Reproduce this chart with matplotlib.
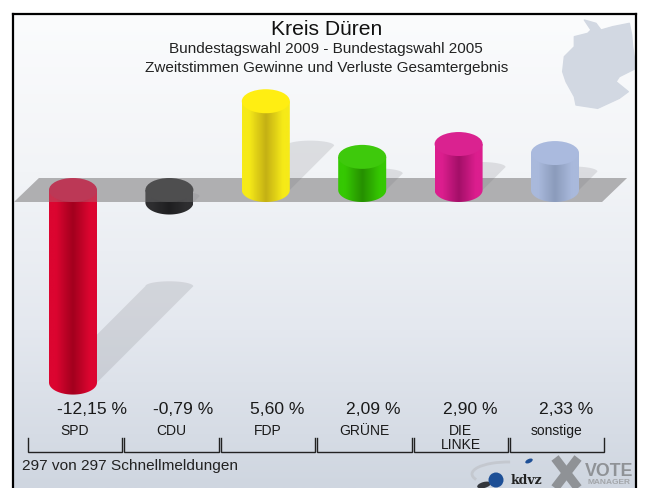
import numpy as np
import matplotlib
matplotlib.use("Agg")
import matplotlib.pyplot as plt
from matplotlib.patches import Ellipse, PathPatch, Polygon, Arc, Circle
from matplotlib.path import Path
from matplotlib.colors import LinearSegmentedColormap

plt.rcParams['font.family'] = ['Liberation Sans', 'DejaVu Sans']

# ---------- data ----------
parties = ["SPD", "CDU", "FDP", "GRÜNE", "DIE\nLINKE", "sonstige"]
changes = [-12.15, -0.79, 5.60, 2.09, 2.90, 2.33]
value_labels = ["-12,15 %", "-0,79 %", "5,60 %", "2,09 %", "2,90 %", "2,33 %"]
edge_colors = ["#dc0530", "#2e2e30", "#f6ea18", "#35c802", "#dc1e8e", "#a9b9dc"]
mid_colors = ["#a2001e", "#1e1e20", "#c4b014", "#268f00", "#a30f68", "#8b9bbb"]
cap_colors = ["#cc0f3a", "#2e2e30", "#ffee12", "#3ec90c", "#da2290", "#aabade"]
title = "Kreis Düren"
subtitle1 = "Bundestagswahl 2009 - Bundestagswahl 2005"
subtitle2 = "Zweitstimmen Gewinne und Verluste Gesamtergebnis"
footer = "297 von 297 Schnellmeldungen"

# ---------- layout (pixels of the 646x488 canvas) ----------
W, H = 646, 488
X0, DX = 73.0, 96.4       # pixel position of first category, spacing
Y0, DY = 190.0, 15.85     # pixel position of value 0, pixels per unit
BAR_W = 48 / DX           # category units
CAP_H = 24 / DY           # value units

fig = plt.figure(figsize=(W / 100, H / 100), dpi=100, facecolor="white")

# chrome axes in pixel coordinates
bg = fig.add_axes([0, 0, 1, 1], zorder=0)
bg.set_xlim(0, W); bg.set_ylim(H, 0); bg.axis("off")

# chart axes: x = category index, y = change in percentage points
ax = fig.add_axes([0, 0, 1, 1], zorder=1)
xlim = ((0 - X0) / DX, (W - X0) / DX)
ylim = ((Y0 - H) / DY, Y0 / DY)
ax.set_xlim(xlim); ax.set_ylim(ylim); ax.axis("off"); ax.patch.set_alpha(0)

# background gradient
grad = np.linspace(0, 1, 256)[:, None]
bg_cmap = LinearSegmentedColormap.from_list("bg", ["#fbfcfd", "#f2f4f7", "#e4e8ef", "#cfd6e0"])
bg.imshow(grad, extent=(13, 636, 488, 14), aspect="auto", cmap=bg_cmap, zorder=0, origin="upper")
bg.set_xlim(0, W); bg.set_ylim(H, 0)

# Germany silhouette
germany_z = [(130,30),(165,40),(180,60),(215,50),(265,40),(272,75),(275,110),(285,175),(235,200),
             (225,215),(262,245),(235,265),(170,295),(105,285),(100,260),(75,215),(65,185),(70,140),
             (100,110),(100,80),(140,70),(150,60)]
germany = [(541 + a / 3.0, 10 + b / 3.0) for a, b in germany_z]
bg.add_patch(Polygon(germany, closed=True, fc="#d2d8e2", ec="#d2d8e2", lw=1, joinstyle="round", zorder=1))

# frame
for xs, ys in [((13, 13), (14, 488)), ((636, 636), (14, 488)), ((13, 636), (14, 14))]:
    bg.plot(xs, ys, color="black", lw=1.6, zorder=2, solid_capstyle="projecting")


def cylinder(i, v, z):
    """Draw one cylinder from value 0 to value v at category i."""
    hi, lo = max(v, 0), min(v, 0)
    hw = BAR_W / 2
    t = np.linspace(np.pi, 2 * np.pi, 40)
    bottom = np.column_stack([i + hw * np.cos(t), lo + CAP_H / 2 * np.sin(t)])
    verts = np.vstack([[(i - hw, hi)], bottom, [(i + hw, hi)], [(i - hw, hi)]])
    clip = PathPatch(Path(verts), transform=ax.transData, fc="none", ec="none")
    ax.add_patch(clip)
    cm = LinearSegmentedColormap.from_list(
        "c", [(0, edge_colors[i]), (0.14, edge_colors[i]), (0.5, mid_colors[i]),
              (0.86, edge_colors[i]), (1, edge_colors[i])])
    im = ax.imshow(np.linspace(0, 1, 64)[None, :], extent=(i - hw, i + hw, lo - CAP_H / 2, hi),
                   aspect="auto", cmap=cm, zorder=z, origin="lower")
    im.set_clip_path(clip)
    ax.add_patch(Ellipse((i, hi), BAR_W, CAP_H, fc=cap_colors[i], ec="none", zorder=z + 0.1))


def shadow(i, v, z):
    """Slanted cast shadow: the cylinder's foot slid up and right, with a rounded end."""
    lo = min(v, 0)
    hw = BAR_W / 2
    ddx = 0.5 * abs(v) * DY / DX
    ddy = 0.5 * abs(v)
    t = np.linspace(np.pi, 0, 24)
    tip = np.column_stack([i + ddx + hw * np.cos(t), lo + ddy + (5 / DY) * np.sin(t)])
    pts = np.vstack([[(i - hw, lo), (i + hw, lo)], tip[::-1], ])
    ax.add_patch(Polygon(pts, closed=True, fc="#6a6a70", alpha=0.17, ec="none", zorder=z))


# floor plane
plane_h = CAP_H / 2
plane_l, plane_r = (14 - X0) / DX, (602 - X0) / DX
skew = 25 / DX
plane = [(plane_l, -plane_h), (plane_r, -plane_h), (plane_r + skew, plane_h), (plane_l + skew, plane_h)]

ax.add_patch(Polygon(plane, closed=True, fc="#b9b9bc", ec="none", zorder=2))
for i, v in enumerate(changes):
    if v < 0:
        shadow(i, v, 2.5)
for i, v in enumerate(changes):
    if v < 0:
        cylinder(i, v, 3)
ax.add_patch(Polygon(plane, closed=True, fc="#9a9a9a", alpha=0.3, ec="none", zorder=4))
for i, v in enumerate(changes):
    if v > 0:
        shadow(i, v, 4.5)
for i, v in enumerate(changes):
    if v > 0:
        cylinder(i, v, 5)
ax.set_xlim(xlim); ax.set_ylim(ylim)

# titles
bg.text(327, 29.5, title, ha="center", va="center", fontsize=15.2, color="#111111", zorder=3)
bg.text(326, 49, subtitle1, ha="center", va="center", fontsize=11, color="#222222", zorder=3)
bg.text(327, 68, subtitle2, ha="center", va="center", fontsize=11, color="#222222", zorder=3)

# value labels and party labels
for i, (lab, p) in enumerate(zip(value_labels, parties)):
    ax.text(i - 16 / DX, (Y0 - 410) / DY, lab, ha="left", va="center", fontsize=12.6, color="#1a1a1a", zorder=6)
    two = "\n" in p
    ax.text(i + 2 / DX, (Y0 - (438 if two else 431)) / DY, p, ha="center", va="center",
            fontsize=10, color="#1a1a1a", zorder=6, linespacing=1.0)

# brackets
for i in range(len(parties)):
    l = bg.transData.inverted().transform(ax.transData.transform((i - 0.477, 0)))[0] + 1
    r = l + DX - 2
    bg.plot([l, l, r, r], [438, 452, 452, 438], color="#222222", lw=1, zorder=3, solid_joinstyle="miter")

# footer
bg.text(22, 466, footer, ha="left", va="center", fontsize=11.1, color="#222222", zorder=3)

# logos (kdvz, VOTE MANAGER)
bg.add_patch(Arc((508, 474), 72, 24, theta1=170, theta2=280, color="#c4c8cf", lw=2, zorder=3))
bg.add_patch(Ellipse((484, 485), 14, 6, angle=-15, fc="#33363c", ec="none", zorder=3.5))
bg.add_patch(Circle((496, 480), 7.5, fc="#1d4f96", ec="none", zorder=4))
bg.add_patch(Ellipse((529, 461), 8, 4, angle=-25, fc="#1d4f96", ec="none", zorder=4))
bg.text(526, 481, "kdvz", ha="center", va="center", fontsize=9, family="DejaVu Serif",
        fontweight="bold", color="#222222", zorder=4)
bg.plot([555, 578], [458, 488], color="#8f9296", lw=6.5, zorder=3, solid_capstyle="butt")
bg.plot([578, 555], [458, 488], color="#8f9296", lw=6.5, zorder=3, solid_capstyle="butt")
bg.text(609.5, 471, "VOTE", ha="center", va="center", fontsize=12.8, fontweight="bold", color="#8f9296", zorder=4)
bg.text(609.5, 482.5, "MANAGER", ha="center", va="center", fontsize=6, fontweight="bold", color="#a3a6aa", zorder=4)

fig.savefig("out.png", dpi=100, facecolor="white")
